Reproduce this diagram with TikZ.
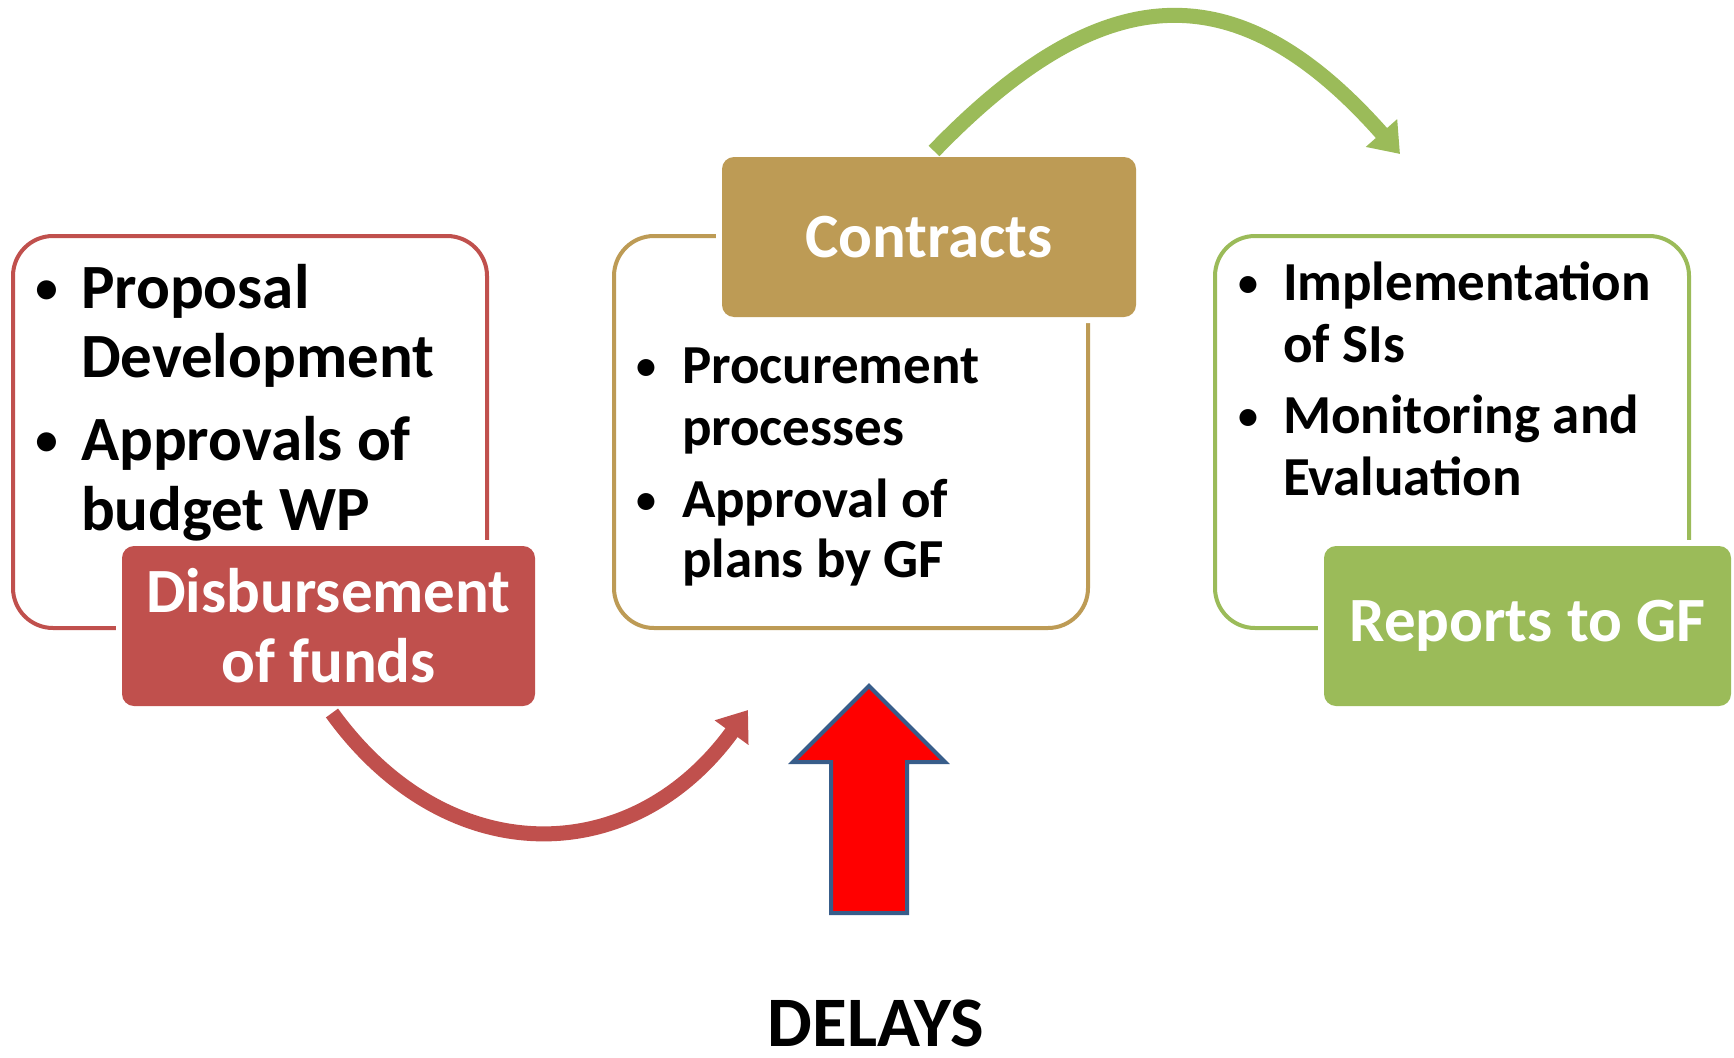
\documentclass[tikz,border=0pt]{standalone}
\usepackage{fontspec}
\setmainfont{Carlito}
\usetikzlibrary{arrows.meta,calc}

\definecolor{redacc}{HTML}{C0504D}
\definecolor{tanacc}{HTML}{BD9B55}
\definecolor{greenacc}{HTML}{9BBB59}
\definecolor{delayfill}{HTML}{FF0000}
\definecolor{delayedge}{HTML}{385D8A}

\newcommand\bigitemfont{\fontsize{63}{70}\selectfont\bfseries}
\newcommand\miditemfont{\fontsize{55}{62}\selectfont\bfseries}
\newcommand\labelfont{\fontsize{63}{70}\selectfont\bfseries}
\newcommand\delayfont{\fontsize{71}{78}\selectfont\bfseries}
\newcommand\bigdot{\fontsize{54}{60}\selectfont\raisebox{2.5pt}{•}}
\newcommand\middot{\fontsize{48}{54}\selectfont\raisebox{2pt}{•}}

\tikzset{
  outlinebox/.style={draw=#1, line width=4pt, rounded corners=40pt,
    minimum width=474pt, minimum height=392pt, inner sep=0pt, outer sep=0pt},
  labelbox/.style={fill=#1, text=white, rounded corners=12pt,
    minimum height=160pt, inner sep=0pt, outer sep=0pt, align=center,
    font=\labelfont, preaction={draw=white, line width=12pt}},
  itemtext/.style={anchor=base west, inner sep=0pt, outer sep=0pt},
  bulletmark/.style={anchor=base, inner sep=0pt, outer sep=0pt},
  flowarrow/.style={draw=#1, line width=15pt, line cap=butt,
    -{Triangle[length=28pt,width=40pt]}},
}

\begin{document}
\begin{tikzpicture}[x=1pt, y=-1pt]
  \fill[white] (0,0) rectangle (1734,1057);
  \useasboundingbox (0,0) rectangle (1734,1057);

  \coordinate (redtip) at (748,710);
  \coordinate (greentip) at (1400,154);

  % outlined step boxes
  \node[outlinebox=redacc]   (lbox) at (250,432)  {};
  \node[outlinebox=tanacc]   (cbox) at (851,432)  {};
  \node[outlinebox=greenacc] (rbox) at (1452,432) {};

  % filled label boxes, each with a white rim that breaks the outline
  \node[labelbox=redacc, minimum width=413pt]   (disb) at (328.5,626)
    {Disbursement\\of funds};
  \node[labelbox=tanacc, minimum width=414pt]   (con)  at (929,237)
    {Contracts};
  \node[labelbox=greenacc, minimum width=407pt] (rep)  at (1527.5,626)
    {Reports to GF};

  % left box items
  \node[bulletmark] (lb1) at (47,308) {\bigdot};
  \node[itemtext, font=\bigitemfont] (l1) at (81,308) {Proposal};
  \node[itemtext, font=\bigitemfont] (l2) at (81,377) {Development};
  \node[bulletmark] (lb2) at (47,460) {\bigdot};
  \node[itemtext, font=\bigitemfont] (l3) at (81,460) {Approvals of};
  \node[itemtext, font=\bigitemfont] (l4) at (81,530) {budget WP};

  % middle box items
  \node[bulletmark] (cb1) at (646,383) {\middot};
  \node[itemtext, font=\miditemfont] (c1) at (682,383) {Procurement};
  \node[itemtext, font=\miditemfont] (c2) at (682,445) {processes};
  \node[bulletmark] (cb2) at (646,517) {\middot};
  \node[itemtext, font=\miditemfont] (c3) at (682,517) {Approval of};
  \node[itemtext, font=\miditemfont] (c4) at (682,577) {plans by GF};

  % right box items
  \node[bulletmark] (rb1) at (1248,300) {\middot};
  \node[itemtext, font=\miditemfont] (r1) at (1283,300) {Implementation};
  \node[itemtext, font=\miditemfont] (r2) at (1283,362) {of SIs};
  \node[bulletmark] (rb2) at (1248,433) {\middot};
  \node[itemtext, font=\miditemfont] (r3) at (1283,433) {Monitoring and};
  \node[itemtext, font=\miditemfont] (r4) at (1283,495) {Evaluation};

  % curved flow arrows
  \draw[flowarrow=redacc] ($(disb.south)+(3.5,7)$)
    .. controls (446,871) and (631,871) .. (redtip);
  \draw[flowarrow=greenacc] ($(con.north)+(5,-6)$)
    .. controls (1106,-27) and (1240,-27) .. (greentip);

  % block arrow pointing up at the middle step
  \draw[fill=delayfill, draw=delayedge, line width=4pt, line join=miter]
    (869,686) -- (945,762) -- (907,762) -- (907,913) -- (831,913)
    -- (831,762) -- (793,762) -- cycle;
  \node[anchor=base, inner sep=0pt, font=\delayfont] (delays) at (876,1046) {DELAYS};
\end{tikzpicture}
\end{document}
